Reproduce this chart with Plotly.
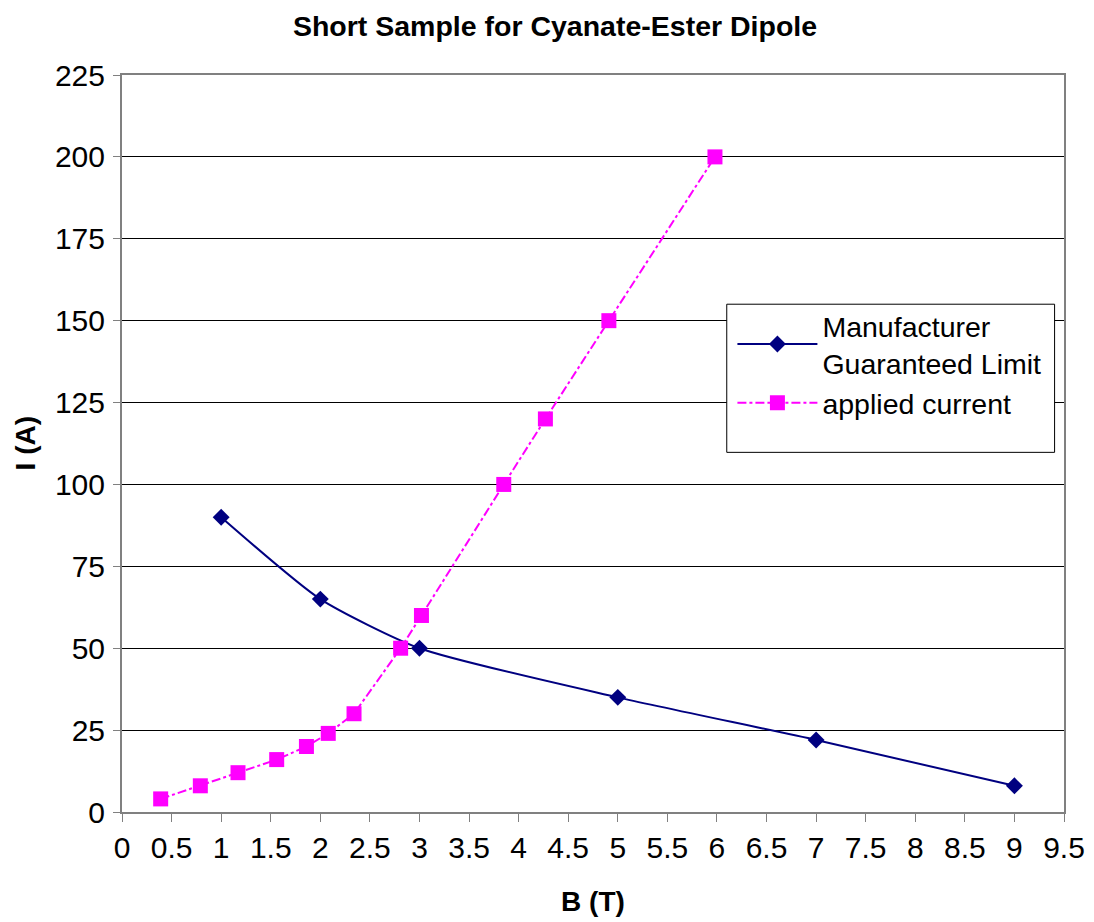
import plotly.graph_objects as go

# Manufacturer guaranteed limit
b_limit = [1, 2, 3, 5, 7, 9]
i_limit = [90, 65, 50, 35, 22, 8]

# applied current
b_applied = [0.39, 0.79, 1.17, 1.56, 1.86, 2.08, 2.34, 2.81, 3.02, 3.85, 4.27, 4.91, 5.98]
i_applied = [4, 8, 12, 16, 20, 24, 30, 50, 60, 100, 120, 150, 200]

x_ticks = [i * 0.5 for i in range(20)]
x_labels = ["0", "0.5", "1", "1.5", "2", "2.5", "3", "3.5", "4", "4.5", "5",
            "5.5", "6", "6.5", "7", "7.5", "8", "8.5", "9", "9.5"]

fig = go.Figure()

fig.add_trace(go.Scatter(
    x=b_limit, y=i_limit, name="Manufacturer<br>Guaranteed Limit",
    mode="lines+markers", line=dict(color="#000080", width=2, shape="spline", smoothing=0.6),
    marker=dict(symbol="diamond", size=13, color="#000080")))

fig.add_trace(go.Scatter(
    x=b_applied, y=i_applied, name="applied current",
    mode="lines+markers", line=dict(color="#FF00FF", width=2, dash="dashdot"),
    marker=dict(symbol="square", size=15, color="#FF00FF")))

# legend box (drawn as a shape so it can keep the blank space at the bottom)
fig.add_shape(type="rect", xref="paper", yref="paper",
              x0=0.642, x1=0.990, y0=0.488, y1=0.689,
              fillcolor="white", line=dict(color="black", width=1), layer="above")

# y axis title sits closer to the tick labels than plotly's standoff allows
fig.add_annotation(text="<b>I (A)</b>", xref="paper", yref="paper", x=-0.102, y=0.5,
                   xanchor="center", yanchor="middle", textangle=-90, showarrow=False,
                   font=dict(size=28))

fig.update_layout(
    width=1094, height=922,
    paper_bgcolor="white", plot_bgcolor="white",
    font=dict(family="Liberation Sans, Arial", size=28, color="black"),
    title=dict(text="<b>Short Sample for Cyanate-Ester Dipole</b>", x=0.5, xanchor="center",
               yref="container", y=0.98, yanchor="middle", font=dict(size=28.5)),
    margin=dict(l=114, r=38, t=67, b=118),
    legend=dict(x=0.648, y=0.694, xanchor="left", yanchor="top",
                bgcolor="rgba(0,0,0,0)", borderwidth=0, itemwidth=80,
                font=dict(size=28.5), tracegroupgap=0),
    showlegend=True,
)

fig.update_xaxes(
    range=[0, 9.5], tickvals=x_ticks, ticktext=x_labels,
    showgrid=False, zeroline=False,
    showline=True, linecolor="#808080", linewidth=2, mirror=True,
    ticks="outside", ticklen=8, tickcolor="#808080",
    tickfont=dict(family="Liberation Sans, Arial", size=30, color="black"),
    title=dict(text="<b>B (T)</b>", font=dict(size=28), standoff=28))

fig.update_yaxes(
    range=[0, 225], dtick=25, tick0=0,
    showgrid=True, gridcolor="black", gridwidth=1, zeroline=False,
    showline=True, linecolor="#808080", linewidth=2, mirror=True,
    ticks="outside", ticklen=7, tickcolor="#808080", ticklabelstandoff=2,
    tickfont=dict(family="Liberation Sans, Arial", size=30, color="black"))

fig.write_html("out.html")
